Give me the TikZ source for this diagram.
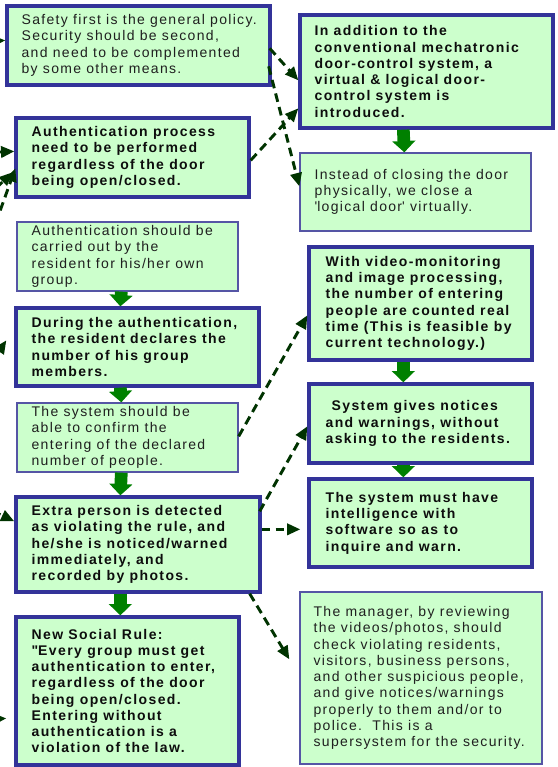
\documentclass[tikz,border=0pt]{standalone}
\usepackage{fontspec}
\setmainfont{Liberation Sans}[LetterSpace=9.5]
\newfontfamily\heavyface{Liberation Sans}[LetterSpace=10]
\usetikzlibrary{arrows.meta,calc,fit}
\definecolor{boxfill}{HTML}{CCFFCC}
\definecolor{frame}{HTML}{333399}
\definecolor{thinframe}{HTML}{5555A5}
\definecolor{dashgreen}{HTML}{003300}
\definecolor{flowgreen}{HTML}{008000}

\begin{document}
\begin{tikzpicture}[x=0.75pt,y=-0.75pt,
  thickbox/.style={draw=frame, line width=2.5pt, fill=boxfill, inner sep=0pt},
  thinbox/.style={draw=thinframe, line width=1pt, fill=boxfill, inner sep=0pt},
  plain/.style={anchor=west, align=left, inner sep=0pt, text=black!88,
    font=\fontsize{10.5}{12.2}\selectfont},
  strong/.style={plain, text=black!95, font=\fontsize{10.5}{12.2}\selectfont\heavyface\bfseries},
  flow/.style={draw=flowgreen, line width=9.5pt, -{Triangle[length=8.5pt,width=17pt]}},
  link/.style={draw=dashgreen, line width=2.2pt, dash pattern=on 6.5pt off 4pt,
    -{Triangle[length=10pt,width=8.5pt]}}
]
\useasboundingbox (0,0) rectangle (557,767);
\clip (0,0) rectangle (557,767);

% ---------- left column ----------
\node[thickbox, fit={(7,6) (270,85)}] (A) {};
\node[plain] (At) at ($(A.west)+(16,0)$) {Safety first is the general policy.\\Security should be second,\\and need to be complemented\\by some other means.};

\node[thickbox, fit={(16,118) (249,197)}] (D) {};
\node[strong] (Dt) at ($(D.west)+(17,0)$) {Authentication process\\need to be performed\\regardless of the door\\being open/closed.};

\node[thinbox, fit={(17,222) (238,291)}] (E) {};
\node[plain] (Et) at ($(E.west)+(15,0)$) {Authentication should be\\carried out by the\\resident for his/her own\\group.};

\node[thickbox, fit={(16,308) (259,386)}] (F) {};
\node[strong] (Ft) at ($(F.west)+(17,0)$) {During the authentication,\\the resident declares the\\number of his group\\members.};

\node[thinbox, fit={(17,403) (238,472)}] (G) {};
\node[plain] (Gt) at ($(G.west)+(15,0)$) {The system should be\\able to confirm the\\entering of the declared\\number of people.};

\node[thickbox, fit={(16,497) (260,592)}] (H) {};
\node[strong] (Ht) at ($(H.west)+(17,0)$) {Extra person is detected\\as violating the rule, and\\he/she is noticed/warned\\immediately, and\\recorded by photos.};

\node[thickbox, fit={(16,617) (239,765)}] (I) {};
\node[strong] (It) at ($(I.west)+(17,0)$) {New Social Rule:\\\textquotedbl Every group must get\\authentication to enter,\\regardless of the door\\being open/closed.\\Entering without\\authentication is a\\violation of the law.};

% ---------- right column ----------
\node[thickbox, fit={(300,15) (553,128)}] (B) {};
\node[strong] (Bt) at ($(B.west)+(16,0)$) {In addition to the\\conventional mechatronic\\door-control system, a\\virtual \& logical door-\\control system is\\introduced.};

\node[thinbox, fit={(300,153) (531,231)}] (C) {};
\node[plain] (Ct) at ($(C.west)+(15,0)$) {Instead of closing the door\\physically, we close a\\\textquotesingle logical door\textquotesingle{} virtually.};

\node[thickbox, fit={(309,247) (532,360)}] (J) {};
\node[strong] (Jt) at ($(J.west)+(18,0)$) {With video-monitoring\\and image processing,\\the number of entering\\people are counted real\\time (This is feasible by\\current technology.)};

\node[thickbox, fit={(309,384) (532,463)}] (K) {};
\node[strong] (Kt) at ($(K.west)+(18,0)$) {\hspace{4.5pt}System gives notices\\and warnings, without\\asking to the residents.};

\node[thickbox, fit={(309,479) (532,567)}] (L) {};
\node[strong] (Lt) at ($(L.west)+(18,0)$) {The system must have\\intelligence with\\software so as to\\inquire and warn.};

\node[thinbox, fit={(300,592) (542,764)}] (M) {};
\node[plain] (Mt) at ($(M.west)+(14,0)$) {The manager, by reviewing\\the videos/photos, should\\check violating residents,\\visitors, business persons,\\and other suspicious people,\\and give notices/warnings\\properly to them and/or to\\police.\ \ This is a\\supersystem for the security.};

% ---------- main flow ----------
\draw[flow] ($(B.south west)+(105,0)$) -- ($(C.north west)+(105,0)$);
\draw[flow] ($(E.south west)+(105,0)$) -- ($(F.north west)+(106,0)$);
\draw[flow] ($(F.south west)+(106,0)$) -- ($(G.north west)+(105,0)$);
\draw[flow] ($(G.south west)+(105,0)$) -- ($(H.north west)+(106,0)$);
\draw[flow] ($(H.south west)+(106,0)$) -- ($(I.north west)+(106,0)$);
\draw[flow] ($(J.south west)+(96,0)$) -- ($(K.north west)+(96,0)$);
\draw[flow] ($(K.south west)+(96,0)$) -- ($(L.north west)+(96,0)$);

% ---------- cross links ----------
\draw[link] ($(A.north east)+(-2,44)$) -- ($(B.north west)+(0,67)$);
\draw[link] ($(A.north east)+(-3,62)$) -- ($(C.north west)+(0,34)$);
\draw[link] ($(D.north east)+(0,44)$) -- ($(B.north west)+(0,95)$);
\draw[link] ($(G.north east)+(0,34)$) -- ($(J.north west)+(0,70)$);
\draw[link] ($(H.north east)+(-2,16)$) -- ($(K.north west)+(0,44)$);
\draw[link] ($(H.north east)+(0,34)$) -- ($(L.north west)+(-7,52)$);
\draw[link] ($(H.south east)+(-12,0)$) -- ($(M.north west)+(-10,68)$);

% ---------- links entering from the left ----------
\coordinate (inA) at (-20,42);
\coordinate (inD1) at (-20,153);
\coordinate (inD2) at (-14,250);
\coordinate (inD3) at (-14,198);
\coordinate (inF) at (-15,372);
\coordinate (inH) at (-20,505);
\coordinate (inI) at (-20,720);
\draw[link] (inA) -- ($(A.north west)+(0,36)$);
\draw[link] (inD1) -- ($(D.north west)+(0,35)$);
\draw[link] (inD2) -- ($(D.north west)+(1,52)$);
\draw[link] (inD3) -- ($(D.north west)+(-2,56)$);
\draw[link] (inF) -- ($(F.north west)+(-8,34)$);
\draw[link] (inH) -- ($(H.north west)+(0,26)$);
\draw[link] (inI) -- ($(I.north west)+(-8,103)$);
\end{tikzpicture}
\end{document}
